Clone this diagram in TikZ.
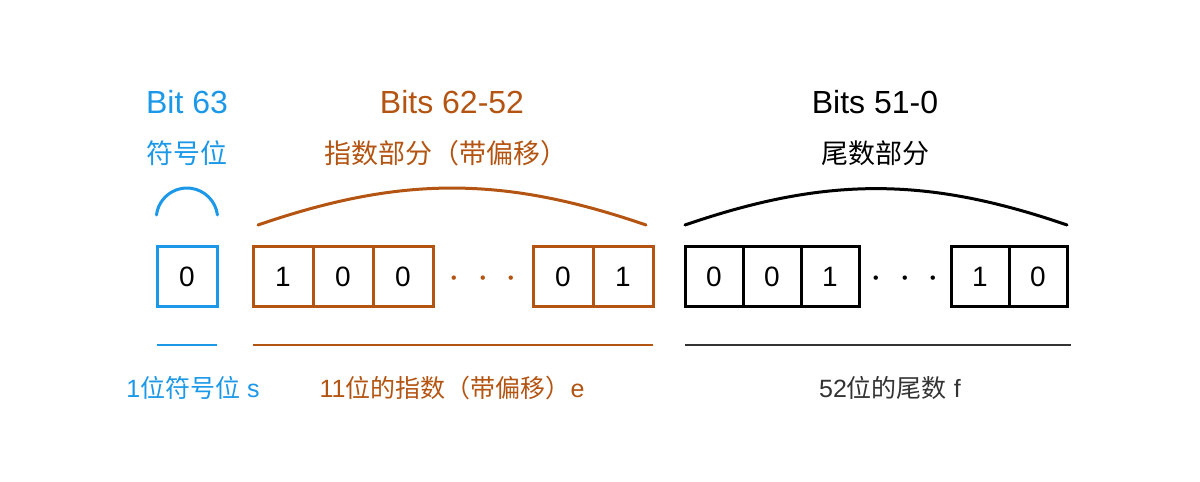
\documentclass[tikz,border=0pt]{standalone}
\usepackage{fontspec}
\setmainfont{Liberation Sans}
\newfontfamily\cjk{Noto Sans CJK SC}
\usepackage{tikz}
\usetikzlibrary{positioning}
\definecolor{signblue}{RGB}{27,152,232}
\definecolor{expbrown}{RGB}{180,84,18}
\definecolor{fracgray}{RGB}{51,51,51}
\tikzset{
	bitcell/.style={
		rectangle, draw,
		line width=1.5pt,
		minimum width=30pt,
		minimum height=30pt,
		inner sep=0pt, outer sep=0pt,
		font=\fontsize{14}{14}\selectfont
	},
	fraccell/.style={bitcell, minimum width=29pt},
	bitdots/.style={
		minimum width=50pt, minimum height=30pt,
		inner sep=0pt, outer sep=0pt,
		font=\fontsize{22}{22}\selectfont
	},
	title/.style={font=\fontsize{16}{18}\selectfont},
	subtitle/.style={font=\cjk\fontsize{13.5}{16}\selectfont},
	caption/.style={font=\fontsize{12.5}{15}\selectfont},
	brace/.style={line width=1.5pt, line cap=round},
	rule/.style={line width=1pt},
}
\begin{document}
\begin{tikzpicture}[x=0.5pt, y=0.5pt]
		\useasboundingbox (0,0) rectangle (1200,482);

		% the sign bit
		\node[bitcell, draw=signblue] (s0) at (187,205) {0};

		% the exponent bits
		\node[bitcell, draw=expbrown] (e1) at (283,205) {1};
		\node[bitcell, draw=expbrown, right=0pt of e1] (e2) {0};
		\node[bitcell, draw=expbrown, right=0pt of e2] (e3) {0};
		\node[bitdots, text=expbrown, yshift=-1pt, right=0pt of e3] (edots) {$\cdot\hspace{4pt}\cdot\hspace{4pt}\cdot$};
		\node[bitcell, draw=expbrown, right=0pt of e3, xshift=50pt] (e4) {0};
		\node[bitcell, draw=expbrown, right=0pt of e4] (e5) {1};

		% the fraction bits
		\node[fraccell] (f1) at (714,205) {0};
		\node[fraccell, right=0pt of f1] (f2) {0};
		\node[fraccell, right=0pt of f2] (f3) {1};
		\node[bitdots, minimum width=46pt, yshift=-1pt, right=0pt of f3] (fdots) {$\cdot\hspace{4pt}\cdot\hspace{4pt}\cdot$};
		\node[fraccell, right=0pt of f3, xshift=46pt] (f4) {1};
		\node[fraccell, right=0pt of f4] (f5) {0};

		% the titles
		\node[title, text=signblue] (t63) at (187,380) {Bit 63};
		\node[subtitle, text=signblue] (tsign) at (187,329) {符号位};
		\node[title, text=expbrown] (t62) at (452,380) {Bits 62-52};
		\node[subtitle, text=expbrown] (texp) at (446,329) {指数部分（带偏移）};
		\node[title] (t51) at (875,380) {Bits 51-0};
		\node[subtitle] (tfrac) at (875,329) {尾数部分};

		% the braces
		\coordinate (sa) at (156.5,267);
		\coordinate (ea) at (258,257);
		\coordinate (eb) at (646,257);
		\coordinate (fa) at (685,257);
		\coordinate (fb) at (1067,257);
		\draw[brace, signblue] (sa) arc[start angle=173, end angle=7, radius=30.7];
		\draw[brace, expbrown] (ea) to[bend left=19] (eb);
		\draw[brace] (fa) to[bend left=19] (fb);

		% the rules
		\draw[rule, signblue] ([yshift=-19pt]s0.south west) -- ([yshift=-19pt]s0.south east);
		\draw[rule, expbrown] ([yshift=-19pt]e1.south west) -- ([yshift=-19pt]e5.south east);
		\draw[rule, fracgray] ([yshift=-19pt]f1.south west) -- ([yshift=-19pt,xshift=2pt]f5.south east);

		% the captions
		\node[caption, text=signblue] (csign) at (193,94) {1{\cjk 位符号位} s};
		\node[caption, text=expbrown] (cexp) at (452,94) {11{\cjk 位的指数（带偏移）}e};
		\node[caption, text=fracgray] (cfrac) at (890,94) {52{\cjk 位的尾数} f};
	\end{tikzpicture}
\end{document}
